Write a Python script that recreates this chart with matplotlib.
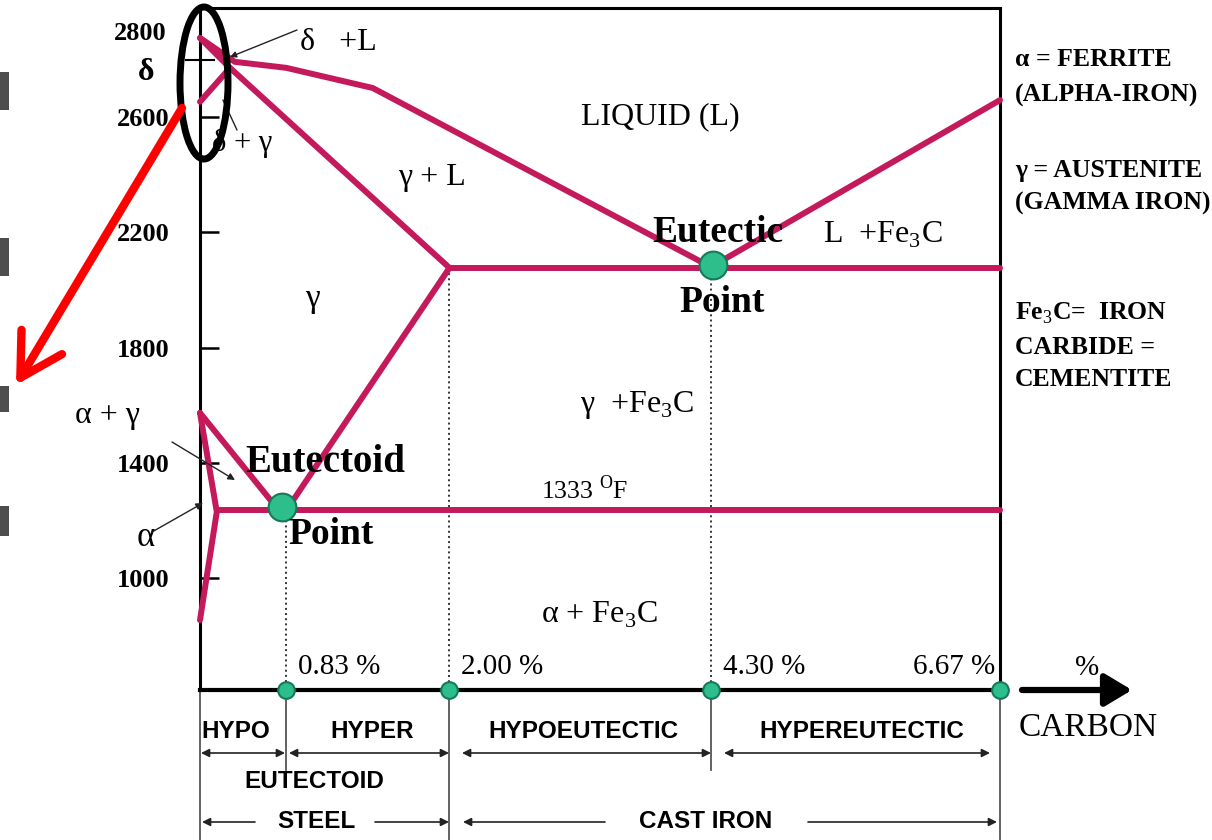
import numpy as np
import matplotlib.pyplot as plt
import matplotlib.transforms as mtransforms
from matplotlib.patches import Ellipse, FancyArrowPatch, Rectangle

plt.rcParams['font.family'] = ['Liberation Serif', 'DejaVu Serif']
plt.rcParams['mathtext.fontset'] = 'custom'
plt.rcParams['mathtext.rm'] = 'Liberation Serif'
plt.rcParams['mathtext.bf'] = 'Liberation Serif:bold'

# phase boundaries (carbon %, temperature F)
liq_c = [0.0, 0.29, 0.72, 1.44, 4.26, 6.67]
liq_t = [2876, 2793, 2772, 2702, 2080, 2660]
delta_c = [0.0, 0.25, 0.0]
delta_t = [2876, 2772, 2654]
sol_c = [0.25, 2.08]
sol_t = [2772, 2077]
eut_c = [2.08, 6.67]
eut_t = [2077, 2077]
acm_c = [2.08, 0.75]
acm_t = [2077, 1253]
a3_c = [0.0, 0.64]
a3_t = [1573, 1243]
alpha_c = [0.0, 0.14, 0.0]
alpha_t = [1573, 1229, 853]
eutd_c = [0.14, 6.67]
eutd_t = [1236, 1236]

# special points
eutectoid_pt = (0.68, 1246)
eutectic_pt = (4.28, 2087)
axis_c = [0.72, 2.08, 4.26, 6.67]
axis_lab = ['0.83 %', '2.00 %', '4.30 %', '6.67 %']
drop_c = [0.72, 2.08, 4.26]
drop_t = [1236, 2077, 2077]

yticks = [1000, 1400, 1800, 2200, 2600]
ytick_lab = ['1000', '1400', '1800', '2200', '2600']

legend_lines = ['\u03b1 = FERRITE', '(ALPHA-IRON)', '\u03b3 = AUSTENITE', '(GAMMA IRON)',
                'Fe$_3$C=  IRON', 'CARBIDE =', 'CEMENTITE']
legend_y = [60, 95, 170, 203, 313, 347, 380]

pink = '#C41A5C'
green = '#2DBE8C'
ymin, ymax = 610, 2980

fig = plt.figure(figsize=(12.12, 8.4), dpi=100)
pix = mtransforms.Affine2D().scale(1 / 1212, -1 / 840).translate(0, 1) + fig.transFigure
ax = fig.add_axes([200 / 1212, 150 / 840, 800 / 1212, 682 / 840])
ax.set_xlim(0, 6.67)
ax.set_ylim(ymin, ymax)

lw = 4.3
for c, t in [(liq_c, liq_t), (delta_c, delta_t), (sol_c, sol_t), (eut_c, eut_t),
             (acm_c, acm_t), (a3_c, a3_t), (alpha_c, alpha_t), (eutd_c, eutd_t)]:
    ax.plot(c, t, color=pink, lw=lw, solid_capstyle='round', solid_joinstyle='round',
            zorder=3, clip_on=False)

for c, t in zip(drop_c, drop_t):
    ax.plot([c, c], [t, ymin], color='#333333', lw=1.4, ls=':', zorder=2)

ax.plot(*eutectoid_pt, 'o', ms=20, mfc=green, mec='#137A5A', mew=1.5, zorder=5)
ax.plot(*eutectic_pt, 'o', ms=20, mfc=green, mec='#137A5A', mew=1.5, zorder=5)
ax.plot(axis_c, [ymin] * len(axis_c), 'o', ms=12, mfc=green, mec='#137A5A', mew=1.5,
        zorder=6, clip_on=False)

for s in ['left', 'top', 'right']:
    ax.spines[s].set_linewidth(2.2)
ax.spines['bottom'].set_linewidth(3)
ax.set_xticks([])
ax.set_yticks(yticks)
ax.set_yticklabels(ytick_lab, fontweight='bold', fontsize=19)
ax.set_yticks([2800], minor=True)
ax.tick_params(axis='y', which='major', direction='in', length=14, width=1.8, pad=22)
ax.tick_params(axis='y', which='minor', direction='inout', length=22, width=1.5)

# x positions below the axis share the data x scale
bx = mtransforms.blended_transform_factory(ax.transData, pix)
for c, lab in zip(axis_c, axis_lab):
    if c < 6:
        ax.text(c + 0.1, 667, lab, transform=bx, fontsize=21, ha='left', va='center')
    else:
        ax.text(c - 0.04, 667, lab, transform=bx, fontsize=21, ha='right', va='center')

# vertical separators under the axis
for c, y1 in [(0.0, 840), (0.72, 770), (2.08, 840), (4.26, 770), (6.67, 840)]:
    ax.plot([c, c], [692, y1], transform=bx, color='#555555', lw=1.3, clip_on=False)


def txt(x, y, s, **kw):
    kw.setdefault('va', 'center')
    kw.setdefault('ha', 'left')
    fig.text(x, y, s, transform=pix, **kw)


def arr(p0, p1, style='-|>', lw=1.2, color='#222222', ms=10, z=4):
    fig.add_artist(FancyArrowPatch(p0, p1, transform=pix, arrowstyle=style, lw=lw,
                                   color=color, mutation_scale=ms, shrinkA=0, shrinkB=0,
                                   zorder=z))


# bottom classification bands
sans = ['Liberation Sans', 'DejaVu Sans']
for x, s in [(236, 'HYPO'), (372, 'HYPER'), (583, 'HYPOEUTECTIC'), (862, 'HYPEREUTECTIC')]:
    txt(x, 732, s, family=sans, fontweight='bold', fontsize=17.5, ha='center')
txt(314, 781, 'EUTECTOID', family=sans, fontweight='bold', fontsize=17.5, ha='center')
txt(316, 821, 'STEEL', family=sans, fontweight='bold', fontsize=17.5, ha='center')
txt(706, 821, 'CAST IRON', family=sans, fontweight='bold', fontsize=17.5, ha='center')
for a, b in [(201, 285), (289, 449), (462, 711), (724, 990)]:
    arr((a, 753), (b, 753), style='<|-|>', ms=12)
for a, b in [(255, 202), (375, 449), (605, 463), (808, 997)]:
    arr((a, 822), (b, 822), style='-|>', ms=12)

# carbon axis arrow
arr((1022, 690), (1132, 690), style='-|>,head_length=0.75,head_width=0.45', lw=4.5,
    color='black', ms=22)
txt(1087, 668, '%', fontsize=21, ha='center')
txt(1088, 728, 'CARBON', fontsize=24, ha='center')

# y label extras
txt(140, 33, '2800', fontsize=19, fontweight='bold', ha='center')
txt(146, 73, '\u03b4', fontsize=23, fontweight='bold', ha='center')

# phase labels
txt(300, 42, '\u03b4   +L', fontsize=23)
txt(212, 143, '\u03b4 + \u03b3', fontsize=22)
txt(660, 117, 'LIQUID (L)', fontsize=23, ha='center')
txt(432, 178, '\u03b3 + L', fontsize=23, ha='center')
txt(312, 299, '\u03b3', fontsize=24, ha='center')
txt(718, 233, 'Eutectic', fontsize=27, fontweight='bold', ha='center')
txt(722, 303, 'Point', fontsize=27, fontweight='bold', ha='center')
txt(823, 235, 'L  +Fe$_3$C', fontsize=23)
txt(580, 405, '\u03b3  +Fe$_3$C', fontsize=23)
txt(541, 490, '1333 $^{\\mathrm{O}}$F', fontsize=18.5)
txt(541, 615, '\u03b1 + Fe$_3$C', fontsize=23)
txt(245, 462, 'Eutectoid', fontsize=28, fontweight='bold')
txt(288, 535, 'Point', fontsize=27, fontweight='bold')
txt(75, 415, '\u03b1 + \u03b3', fontsize=23)
txt(146, 537, '\u03b1', fontsize=25, ha='center')

for y, s in zip(legend_y, legend_lines):
    txt(1015, y, s, fontsize=18.5, fontweight='bold')

# pointer lines
arr((297, 30), (230, 57), lw=1.0, ms=9)
arr((237, 130), (223, 100), style='-', lw=1.0)
arr((172, 442), (235, 480), lw=1.0, ms=10)
arr((152, 532), (203, 503), lw=1.0, ms=10)

# highlight ellipse and red arrow
fig.add_artist(Ellipse((204, 83), 48, 152, transform=pix, fill=False, lw=5,
                       ec='black', zorder=7))
arr((182, 108), (16, 385), style='->,head_length=1.5,head_width=0.85', lw=6,
    color='#FF0000', ms=20, z=7)

# cropped dark marks at the left edge
for y0, h in [(72, 38), (238, 38), (386, 26), (506, 30)]:
    fig.add_artist(Rectangle((0, y0), 9, h, transform=pix, color='#222222', alpha=0.8,
                             lw=0))

fig.savefig('out.png', dpi=100)
